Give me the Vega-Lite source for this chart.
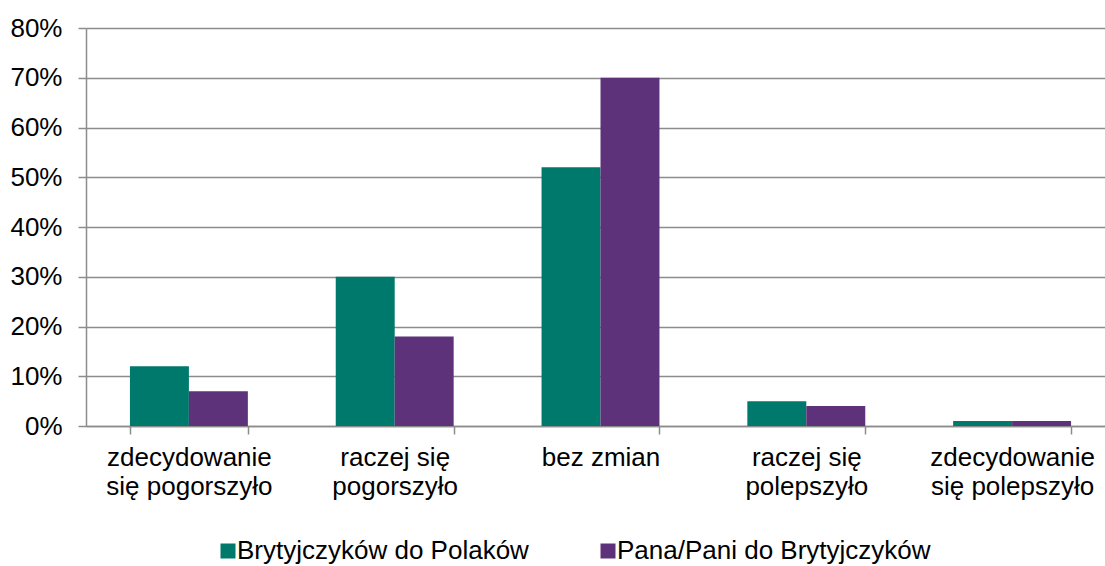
{
  "$schema": "https://vega.github.io/schema/vega-lite/v6.json",
  "width": 1019,
  "height": 398,
  "autosize": {"type": "none"},
  "padding": {"left": 86, "top": 28, "right": 0, "bottom": 140},
  "background": "white",
  "data": {
    "values": [
      {"kategoria": "zdecydowanie się pogorszyło", "seria": "Brytyjczyków do Polaków", "wartosc": 0.12},
      {"kategoria": "zdecydowanie się pogorszyło", "seria": "Pana/Pani do Brytyjczyków", "wartosc": 0.07},
      {"kategoria": "raczej się pogorszyło", "seria": "Brytyjczyków do Polaków", "wartosc": 0.30},
      {"kategoria": "raczej się pogorszyło", "seria": "Pana/Pani do Brytyjczyków", "wartosc": 0.18},
      {"kategoria": "bez zmian", "seria": "Brytyjczyków do Polaków", "wartosc": 0.52},
      {"kategoria": "bez zmian", "seria": "Pana/Pani do Brytyjczyków", "wartosc": 0.70},
      {"kategoria": "raczej się polepszyło", "seria": "Brytyjczyków do Polaków", "wartosc": 0.05},
      {"kategoria": "raczej się polepszyło", "seria": "Pana/Pani do Brytyjczyków", "wartosc": 0.04},
      {"kategoria": "zdecydowanie się polepszyło", "seria": "Brytyjczyków do Polaków", "wartosc": 0.01},
      {"kategoria": "zdecydowanie się polepszyło", "seria": "Pana/Pani do Brytyjczyków", "wartosc": 0.01}
    ]
  },
  "mark": {"type": "bar"},
  "encoding": {
    "x": {
      "field": "kategoria",
      "type": "nominal",
      "sort": null,
      "scale": {"paddingInner": 0.427, "paddingOuter": 0.2135, "range": [0, 1029]},
      "axis": {
        "title": null,
        "labelAngle": 0,
        "tickBand": "extent",
        "tickSize": 8,
        "tickColor": "#8c8c8c",
        "tickWidth": 1.5,
        "domainColor": "#8c8c8c",
        "domainWidth": 1.5,
        "labelPadding": 10,
        "labelFontSize": 26,
        "labelFont": "Liberation Sans",
        "labelColor": "#000000",
        "labelLineHeight": 29,
        "labelBaseline": "top",
        "labelExpr": "datum.value == 'zdecydowanie się pogorszyło' ? ['zdecydowanie', 'się pogorszyło'] : datum.value == 'raczej się pogorszyło' ? ['raczej się', 'pogorszyło'] : datum.value == 'raczej się polepszyło' ? ['raczej się', 'polepszyło'] : datum.value == 'zdecydowanie się polepszyło' ? ['zdecydowanie', 'się polepszyło'] : datum.value",
        "grid": false
      }
    },
    "xOffset": {"field": "seria", "type": "nominal", "scale": {"paddingInner": 0, "paddingOuter": 0}},
    "y": {
      "field": "wartosc",
      "type": "quantitative",
      "scale": {"domain": [0, 0.8], "nice": false},
      "axis": {
        "title": null,
        "format": ".0%",
        "values": [0, 0.1, 0.2, 0.3, 0.4, 0.5, 0.6, 0.7, 0.8],
        "tickSize": 8,
        "tickColor": "#8c8c8c",
        "tickWidth": 1.5,
        "domainColor": "#8c8c8c",
        "domainWidth": 1.5,
        "gridColor": "#8c8c8c",
        "gridWidth": 1.5,
        "labelPadding": 16,
        "labelFontSize": 26,
        "labelFont": "Liberation Sans",
        "labelColor": "#000000"
      }
    },
    "color": {
      "field": "seria",
      "type": "nominal",
      "scale": {"domain": ["Brytyjczyków do Polaków", "Pana/Pani do Brytyjczyków"], "range": ["#00796d", "#5e327a"]},
      "legend": {
        "title": null,
        "orient": "none",
        "direction": "horizontal",
        "legendX": 129,
        "legendY": 510,
        "symbolType": "square",
        "symbolSize": 225,
        "symbolStrokeWidth": 0,
        "labelFontSize": 26,
        "labelFont": "Liberation Sans",
        "labelColor": "#000000",
        "labelOffset": -4,
        "labelLimit": 500,
        "columnPadding": 66
      }
    }
  },
  "config": {"view": {"stroke": null}}
}
